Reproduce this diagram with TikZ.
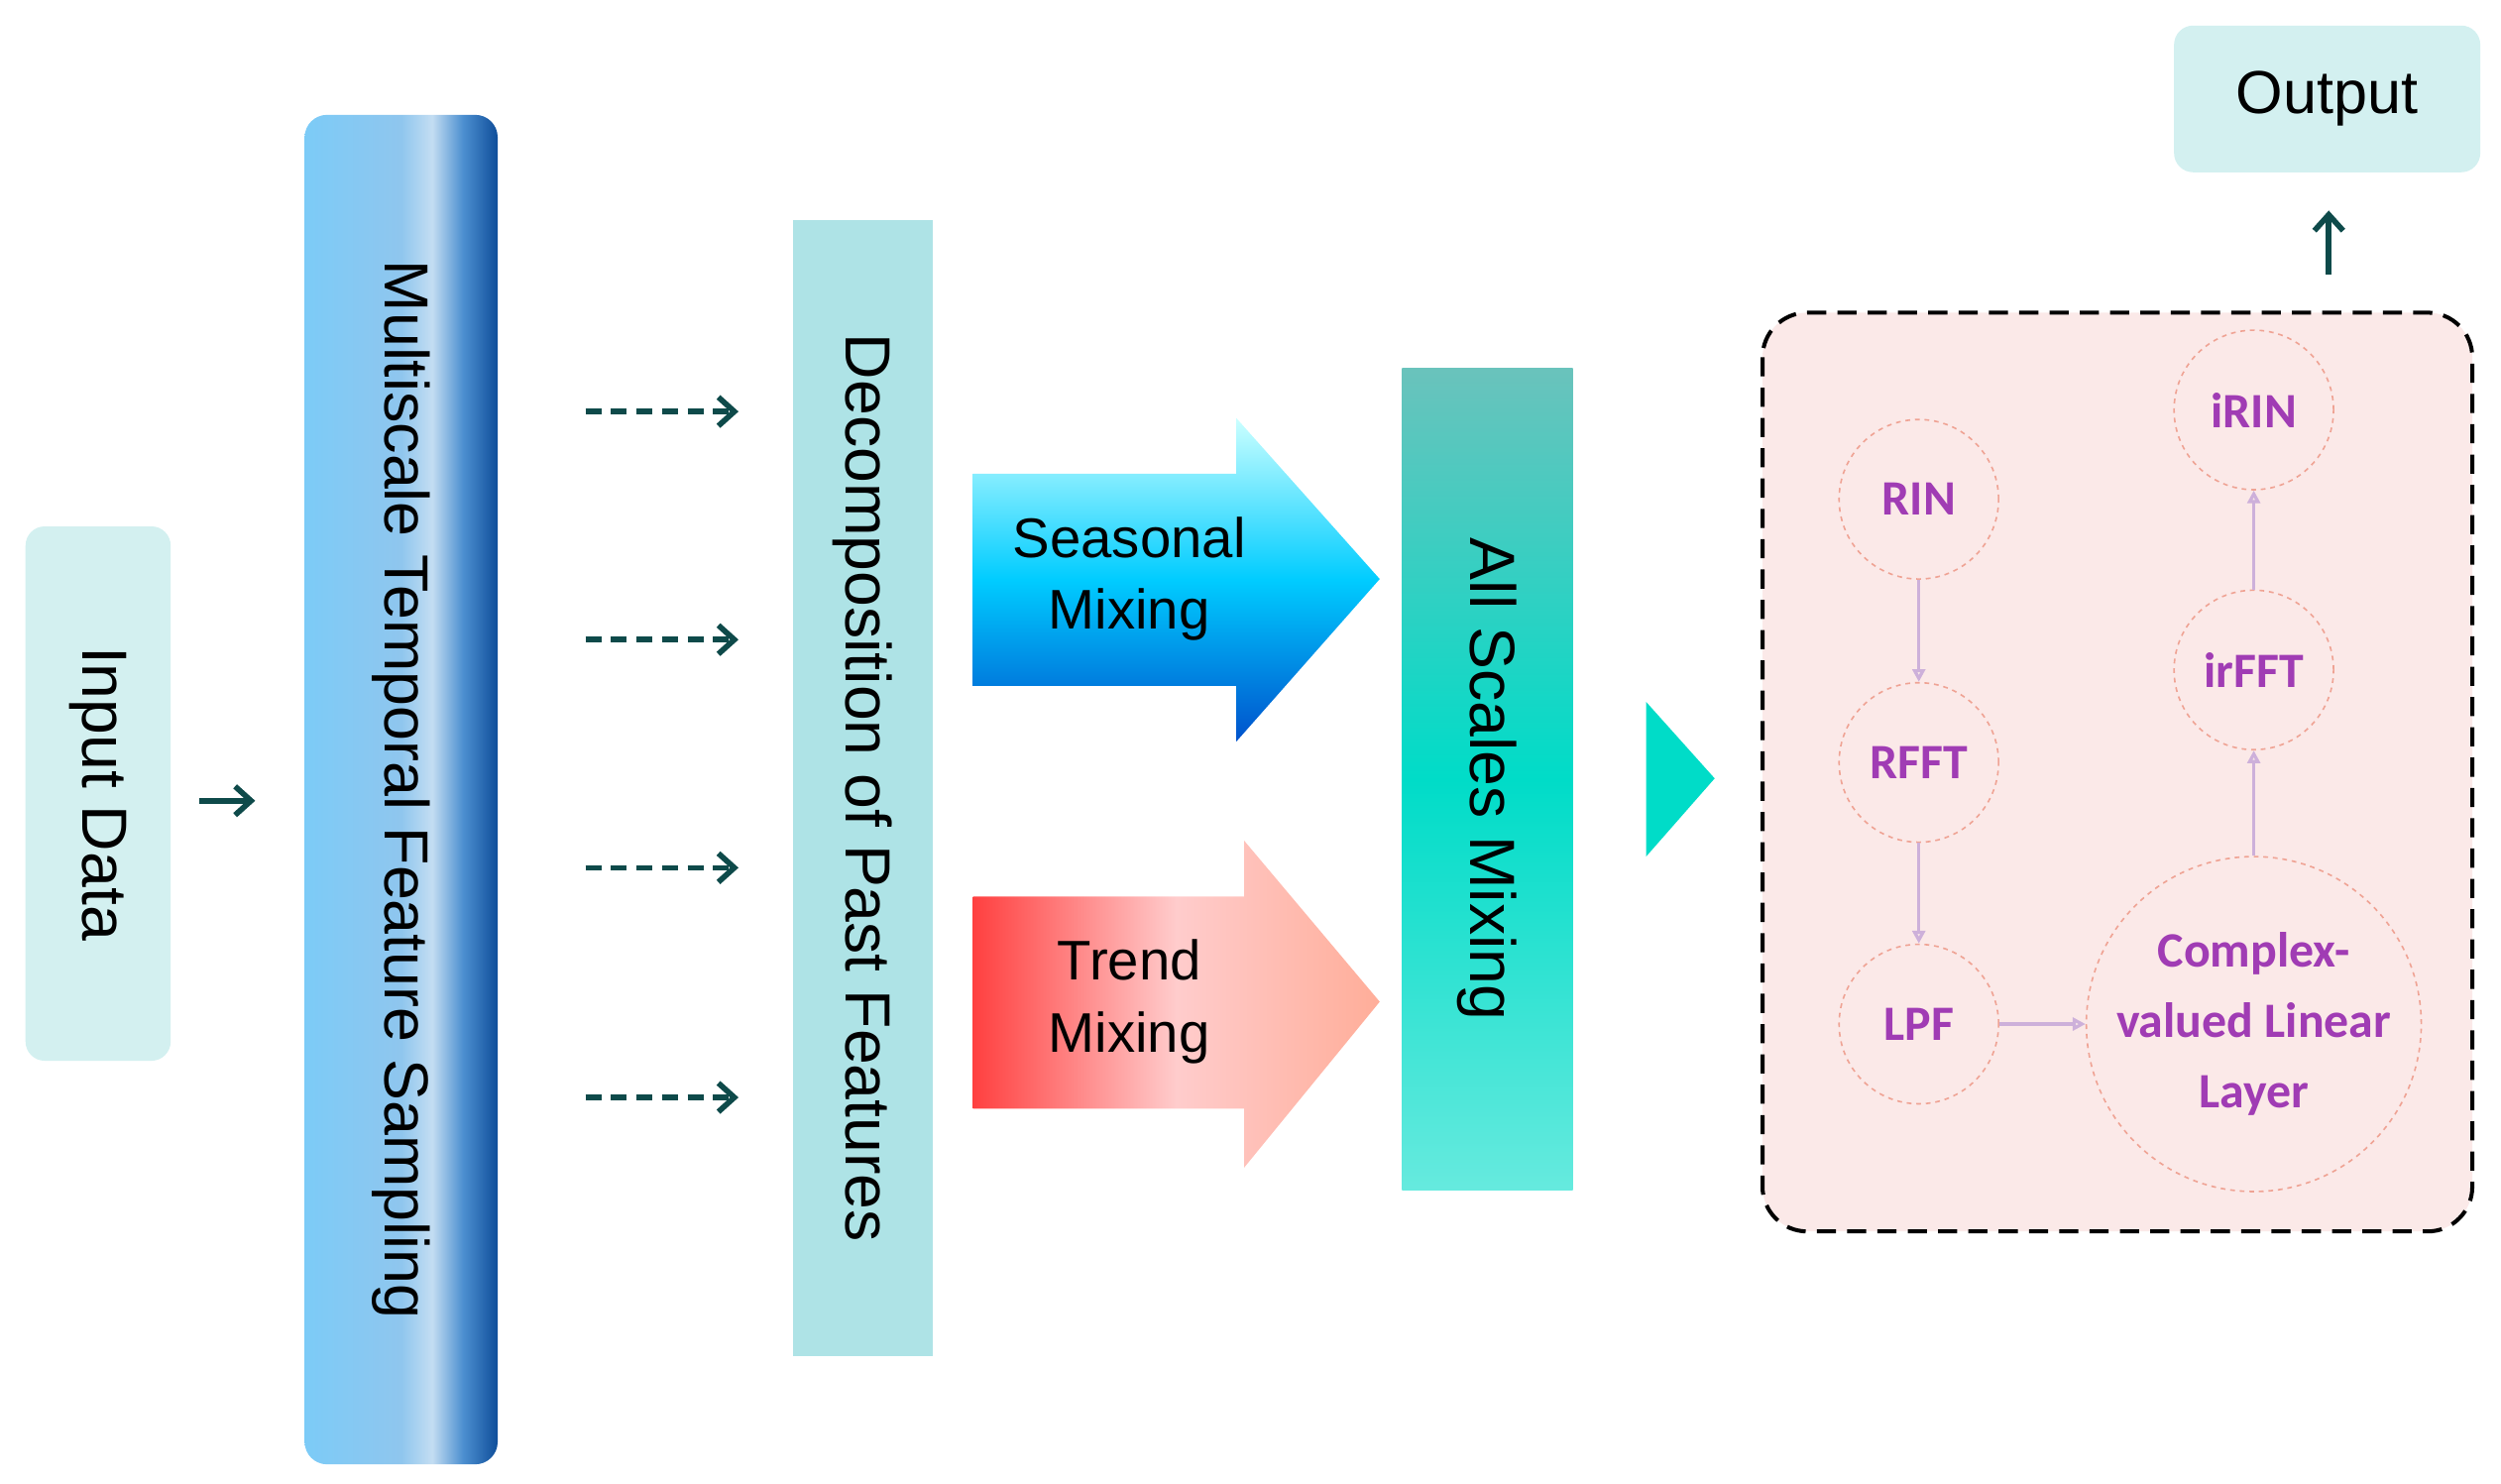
\documentclass[tikz,border=0pt]{standalone}
\usepackage{fontspec}
\setmainfont{Liberation Sans}
\newfontfamily\carl{Carlito}
\usetikzlibrary{arrows.meta,shapes.geometric,calc}
\definecolor{cyanbox}{HTML}{D3F0F0}
\definecolor{teal}{HTML}{0E4A4A}
\definecolor{decomp}{HTML}{AEE3E6}
\definecolor{turq}{HTML}{00DCC8}
\definecolor{pinkbg}{HTML}{FBE9E8}
\definecolor{circ}{HTML}{EFA394}
\definecolor{purp}{HTML}{A03CB4}
\definecolor{larr}{HTML}{CDB0DA}
\definecolor{msA}{HTML}{7CCBF7}
\definecolor{msB}{HTML}{8FC6EE}
\definecolor{msC}{HTML}{C3DDF2}
\definecolor{msD}{HTML}{4C8FD0}
\definecolor{msE}{HTML}{0F4E9A}
\pgfdeclarehorizontalshading{msbar}{100bp}{color(0bp)=(msA);color(25bp)=(msA);color(50bp)=(msB);color(58bp)=(msC);color(66bp)=(msD);color(75bp)=(msE);color(100bp)=(msE)}
\tikzset{
  rot/.style={rotate=-90,font=\fontsize{40}{44}\selectfont,align=center},
  dash arrow/.style={draw=teal,line width=3.5pt,dash pattern=on 10pt off 6pt,-{Straight Barb[length=10pt,width=18pt]}},
  solid arrow/.style={draw=teal,line width=3.5pt,-{Straight Barb[length=10pt,width=18pt]}},
  cnode/.style={circle,draw=circ,dashed,line width=1pt,font=\carl\bfseries\fontsize{31}{44}\selectfont,text=purp,align=center},
  larrow/.style={draw=larr,line width=2pt,-{Triangle[open,length=8pt,width=8pt]}}
}
\begin{document}
\begin{tikzpicture}[x=1pt,y=-1pt]
\useasboundingbox (0,0) rectangle (1568,930);
% Input
\node[fill=cyanbox,rounded corners=12pt,minimum width=91pt,minimum height=335pt] (in) at (61.5,497.5) {};
\node[rot] at (in) {Input Data};
% Multiscale bar
\shade[shading=msbar,rounded corners=14pt] (191,72) -- (312,72) -- (312,918) -- (191,918) -- cycle;
\node[minimum width=121pt,minimum height=846pt] (ms) at (251.5,495) {};
\node[rot,font=\fontsize{39}{44}\selectfont] at (ms) {Multiscale Temporal Feature Sampling};
\draw[solid arrow] (125,502) -- (160,502);
% Decomposition
\node[fill=decomp,minimum width=88pt,minimum height=712pt] (dec) at (541,494) {};
\node[rot] at (dec) {Decomposition of Past Features};
\foreach \y/\n in {258/a,401/b,544/c,688/d}{
  \coordinate (s\n) at (367,\y); \coordinate (e\n) at (463,\y);
  \draw[dash arrow] (s\n) -- (e\n);}
% Seasonal arrow
\shade[top color=cyan!20!white,bottom color=blue!60!cyan!80!black,middle color=cyan!80!blue]
 (610,297) -- (775,297) -- (775,262) -- (865,363) -- (775,465) -- (775,430) -- (610,430) -- cycle;
\node[font=\fontsize{35}{45}\selectfont,align=center] (sea) at (708,363) {Seasonal\\Mixing};
% Trend arrow
\shade[left color=red!75!white,right color=orange!40!red!40!white,middle color=red!20!white]
 (610,562) -- (780,562) -- (780,527) -- (865,628) -- (780,732) -- (780,695) -- (610,695) -- cycle;
\node[font=\fontsize{35}{45}\selectfont,align=center] (tr) at (708,628) {Trend\\Mixing};
% All scales
\shade[top color=turq!55!teal!60!white,bottom color=turq!60!white,middle color=turq] (879,231) rectangle (986,746);
\node[minimum width=107pt,minimum height=515pt] (all) at (932.5,488.5) {};
\node[rot] at (all) {All Scales Mixing};
\fill[turq] (1032,440) -- (1075,488) -- (1032,537) -- cycle;
% Dashed box
\draw[fill=pinkbg,dashed,line width=2.5pt,dash pattern=on 12pt off 7pt,rounded corners=28pt] (1105,196) rectangle (1550,772);
\node[cnode,minimum size=100pt] (rin) at (1203,313) {RIN};
\node[cnode,minimum size=100pt] (rfft) at (1203,478) {RFFT};
\node[cnode,minimum size=100pt] (lpf) at (1203,642) {LPF};
\node[cnode,minimum size=100pt] (irin) at (1413,257) {iRIN};
\node[cnode,minimum size=100pt] (irfft) at (1413,420) {irFFT};
\node[cnode,minimum size=210pt,inner sep=0pt] (cl) at (1413,642) {Complex-\\valued Linear\\Layer};
\draw[larrow] (rin) -- (rfft);
\draw[larrow] (rfft) -- (lpf);
\draw[larrow] (lpf) -- (cl);
\draw[larrow] (cl) -- (irfft);
\draw[larrow] (irfft) -- (irin);
% Output
\node[fill=cyanbox,rounded corners=12pt,minimum width=192pt,minimum height=92pt,font=\fontsize{38}{42}\selectfont] (out) at (1459,62) {Output};
\coordinate (o1) at (1460,172); \coordinate (o2) at (1460,132);
\draw[solid arrow] (o1) -- (o2);
\end{tikzpicture}
\end{document}
